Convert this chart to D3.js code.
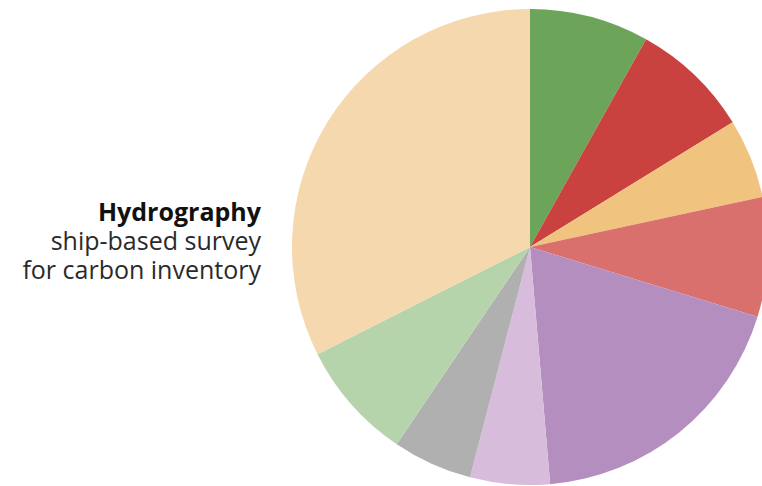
<!DOCTYPE html>
<html>
<head>
<meta charset="utf-8">
<script src="https://cdn.jsdelivr.net/npm/d3@7"></script>
<style>
  html, body { margin: 0; padding: 0; background: #fff; }
  svg { display: block; }
</style>
</head>
<body>
<svg id="chart" width="762" height="486"></svg>
<script>
// slices clockwise from 12 o'clock
const categories = ["A", "B", "C", "D", "E", "F", "G", "H", "I"];
const values = [3, 3, 2, 3, 7, 2, 2, 3, 12];
const colors = ["#6ca55a", "#c9423f", "#f0c47f", "#d9706d", "#b48ebf", "#d7bcdb", "#afb0af", "#b5d4ac", "#f5d8ae"];
const labelLines = ["Hydrography", "ship-based survey", "for carbon inventory"];

const svg = d3.select("#chart");
const cx = 530, cy = 247, radius = 238;

const pie = d3.pie().sort(null).value(d => d.value);
const arc = d3.arc().innerRadius(0).outerRadius(radius);
const color = d3.scaleOrdinal().domain(categories).range(colors);

const data = categories.map((c, i) => ({ name: c, value: values[i] }));

svg.append("g")
  .attr("transform", `translate(${cx},${cy})`)
  .selectAll("path")
  .data(pie(data))
  .join("path")
  .attr("d", arc)
  .attr("fill", d => color(d.data.name));

// label, one text per line
svg.append("g")
  .attr("font-family", "'Open Sans', 'Noto Sans', sans-serif")
  .attr("font-size", 25)
  .attr("text-anchor", "end")
  .selectAll("text")
  .data(labelLines)
  .join("text")
  .attr("x", 261)
  .attr("y", (d, i) => 221 + i * 29)
  .attr("font-weight", (d, i) => i === 0 ? "bold" : "normal")
  .attr("fill", (d, i) => i === 0 ? "#111" : "#2a2a2a")
  .text(d => d);
</script>
</body>
</html>
